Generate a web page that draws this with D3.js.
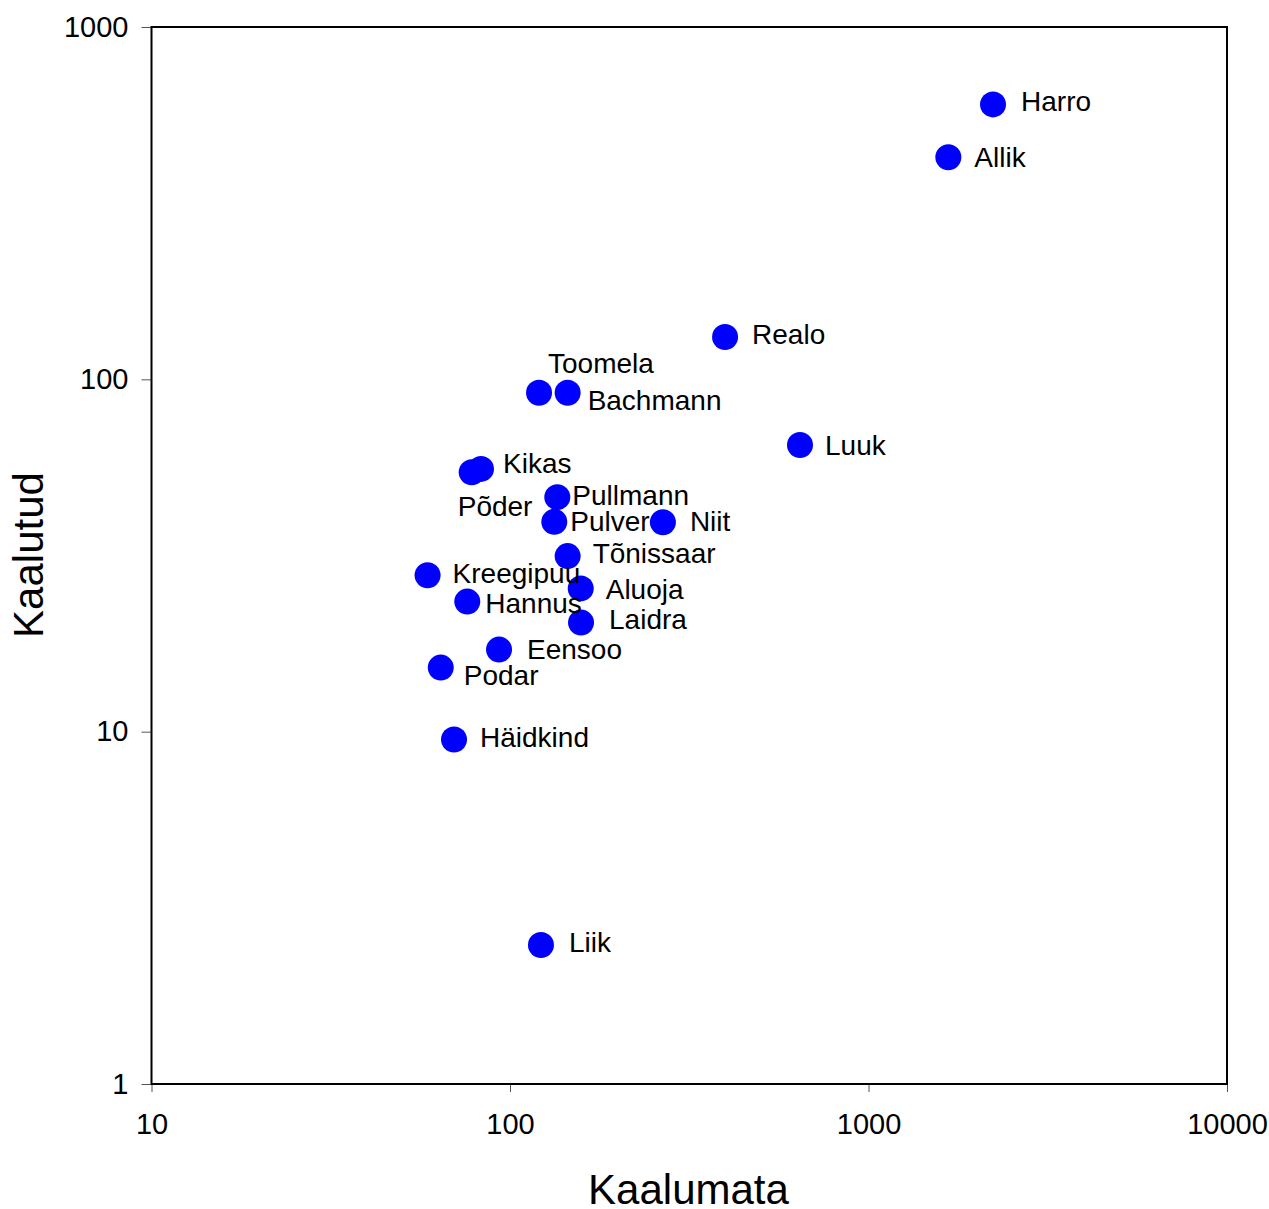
<!DOCTYPE html>
<html>
<head>
<meta charset="utf-8">
<script src="https://cdn.jsdelivr.net/npm/d3@7"></script>
<style>
  body { margin: 0; background: #fff; }
  text { font-family: "Liberation Sans", Arial, sans-serif; fill: #000; }
</style>
</head>
<body>
<div id="chart"></div>
<script>
// names, x = Kaalumata, y = Kaalutud
const names = ["Harro", "Allik", "Realo", "Toomela", "Bachmann", "Luuk", "Kikas", "Põder",
    "Pullmann", "Pulver", "Niit", "Tõnissaar", "Kreegipuu", "Aluoja", "Hannus", "Laidra",
    "Eensoo", "Podar", "Häidkind", "Liik"];
const kaalumata = [2225, 1670, 398, 120.5, 144.8, 644, 83.0, 78.2,
    135.5, 132.9, 267, 144.8, 58.9, 157.5, 76.0, 157.8,
    93.2, 64.1, 69.8, 122];
const kaalutud = [603, 427, 131.9, 91.6, 91.6, 65.1, 55.7, 54.5,
    46.3, 39.4, 39.3, 31.5, 27.8, 25.5, 23.4, 20.4,
    17.1, 15.2, 9.5, 2.48];
const xTicks = [10, 100, 1000, 10000];
const yTicks = [1, 10, 100, 1000];

// label placement (pixels from the dot), same order as names
const labelDx = [28, 26, 27, 9, 20, 25, 22, -14, 15, 16, 27, 25, 25, 25, 18, 28, 28, 23, 26, 28];
const labelDy = [-3, 0, -3, -30, 7, 0, -6, 34, -2, -1, -1, -3, -2, 0, 1, -4, -1, 7, -3, -3];

const width = 1269;
const height = 1209;
const margin = {top: 27, left: 151.5, right: 42, bottom: 125};

const svg = d3.select("#chart")
    .append("svg")
    .attr("width", width)
    .attr("height", height);

const xScale = d3.scaleLog()
    .domain([10, 10000])
    .range([margin.left, width - margin.right]);

const yScale = d3.scaleLog()
    .domain([1, 1000])
    .range([height - margin.bottom, margin.top]);

/* AXES */
const xAxis = svg.append("g")
    .attr("transform", `translate(0,${height - margin.bottom})`)
    .call(d3.axisBottom(xScale).tickValues(xTicks).tickFormat(d3.format("d")).tickSize(8).tickPadding(14));

const yAxis = svg.append("g")
    .attr("transform", `translate(${margin.left},0)`)
    .call(d3.axisLeft(yScale).tickValues(yTicks).tickFormat(d3.format("d")).tickSize(10).tickPadding(13));

svg.selectAll(".domain").remove();
svg.selectAll(".tick line").attr("stroke", "#555").attr("stroke-width", 1);
svg.selectAll(".tick text")
    .style("font-size", "29px")
    .style("font-family", "'Liberation Sans', Arial, sans-serif")
    .attr("fill", "#000");
xAxis.selectAll(".tick text").attr("dy", "0.95em");

/* PLOT FRAME */
svg.append("rect")
    .attr("x", xScale(10))
    .attr("y", yScale(1000))
    .attr("width", xScale(10000) - xScale(10))
    .attr("height", yScale(1) - yScale(1000))
    .attr("fill", "none")
    .attr("stroke", "#000")
    .attr("stroke-width", 2);

/* POINTS */
const idx = d3.range(names.length);

svg.selectAll("circle")
    .data(idx)
    .enter()
    .append("circle")
    .attr("cx", i => xScale(kaalumata[i]))
    .attr("cy", i => yScale(kaalutud[i]))
    .attr("r", 13)
    .attr("fill", "#0000ff");

svg.selectAll(".label")
    .data(idx)
    .enter()
    .append("text")
    .attr("class", "label")
    .attr("x", i => xScale(kaalumata[i]) + labelDx[i])
    .attr("y", i => yScale(kaalutud[i]) + labelDy[i])
    .attr("dy", "0.36em")
    .style("font-size", "28px")
    .text(i => names[i]);

/* AXIS TITLES */
svg.append("text")
    .attr("x", 688.5)
    .attr("y", 1204)
    .attr("text-anchor", "middle")
    .style("font-size", "42px")
    .text("Kaalumata");

svg.append("text")
    .attr("transform", "rotate(-90)")
    .attr("x", -555)
    .attr("y", 43)
    .attr("text-anchor", "middle")
    .style("font-size", "42px")
    .text("Kaalutud");
</script>
</body>
</html>
